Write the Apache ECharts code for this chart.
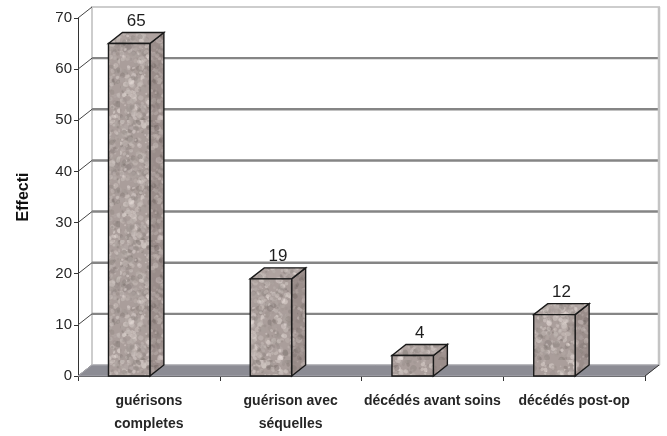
<!DOCTYPE html>
<html>
<head>
<meta charset="utf-8">
<script src="https://cdn.jsdelivr.net/npm/echarts@6/dist/echarts.min.js"></script>
<style>
  html, body { margin: 0; padding: 0; background: #fff; }
  #chart { width: 667px; height: 436px; }
</style>
</head>
<body>
<div id="chart"></div>
<script>
// Outcome categories and their counts
const categories = ['guérisons\ncompletes', 'guérison avec\nséquelles', 'décédés avant soins', 'décédés post-op'];
const counts = [65, 19, 4, 12];
const yMin = 0;
const yMax = 70;
const yStep = 10;
const axisTitle = 'Effecti';

// Pixel offset of the back plane (pseudo-3D depth)
const DX = 14, DY = -11;
const FONT = '"Liberation Sans", Arial, sans-serif';

// Stone-like fill used on the columns (deterministic speckle)
function speckleTexture() {
  const size = 120;
  const cv = document.createElement('canvas');
  cv.width = cv.height = size;
  const ctx = cv.getContext('2d');
  ctx.fillStyle = '#aa9e9b';
  ctx.fillRect(0, 0, size, size);
  const hash = n => { const s = Math.sin(n * 127.1 + 311.7) * 43758.5453; return s - Math.floor(s); };
  ctx.filter = 'blur(0.7px)';
  for (let i = 0; i < 1400; i++) {
    const x = hash(i) * size, y = hash(i + 1000) * size;
    const r = 0.8 + hash(i + 2000) * 2.4;
    const l = Math.round(115 + hash(i + 3000) * 115);
    ctx.fillStyle = 'rgba(' + (l + 8) + ',' + (l - 2) + ',' + (l - 6) + ',0.45)';
    ctx.beginPath();
    ctx.ellipse(x, y, r, r * (0.6 + hash(i + 4000) * 0.6), hash(i + 5000) * 3, 0, Math.PI * 2);
    ctx.fill();
  }
  ctx.filter = 'none';
  return cv;
}
const stone = { image: speckleTexture(), repeat: 'repeat' };

const yTickValues = [];
for (let v = yMin; v <= yMax; v += yStep) yTickValues.push(v);

// Back wall, floor and gridlines drawn on the offset back plane
function renderBackdrop(params, api) {
  const cs = params.coordSys;
  const x0 = cs.x, x1 = cs.x + cs.width;
  const yTop = api.coord([0, yMax])[1];
  const yBase = api.coord([0, yMin])[1];
  const children = [];
  children.push({
    type: 'polygon',
    shape: { points: [[x0 + DX, yTop + DY], [x1 + DX, yTop + DY], [x1 + DX, yBase + DY], [x0 + DX, yBase + DY]] },
    style: { fill: '#ffffff', stroke: '#cdcdcd', lineWidth: 2 }
  });
  yTickValues.forEach(v => {
    const y = api.coord([0, v])[1];
    if (v > yMin && v < yMax) {
      children.push({
        type: 'line',
        shape: { x1: x0 + DX, y1: y + DY, x2: x1 + DX, y2: y + DY },
        style: { stroke: '#858585', lineWidth: 2.4 }
      });
    }
    children.push({
      type: 'line',
      shape: { x1: x0, y1: y, x2: x0 + DX, y2: y + DY },
      style: { stroke: '#444', lineWidth: 1 }
    });
  });
  children.push({
    type: 'line',
    shape: { x1: x1 + DX, y1: yTop + DY, x2: x1 + DX, y2: yBase + DY },
    style: { stroke: '#c4c4c4', lineWidth: 2.5 }
  });
  children.push({
    type: 'polygon',
    shape: { points: [[x0, yBase], [x0 + DX, yBase + DY], [x1 + DX, yBase + DY], [x1, yBase]] },
    style: { fill: '#8c8c94', stroke: '#a9a9b0', lineWidth: 1 }
  });
  children.push({
    type: 'line',
    shape: { x1: x1, y1: yBase, x2: x1 + DX, y2: yBase + DY },
    style: { stroke: '#333', lineWidth: 1 }
  });
  return { type: 'group', children: children };
}

// One pseudo-3D column per category
function renderColumn(params, api) {
  const idx = api.value(0);
  const top = api.coord([idx, api.value(1)]);
  const base = api.coord([idx, yMin]);
  const band = api.size([1, 0])[0];
  const right = top[0] + 1;
  const left = top[0] - band * 0.285;
  const yT = top[1], yB = base[1];
  const edge = '#1a1a1a';
  const front = [[left, yT], [right, yT], [right, yB], [left, yB]];
  const side = [[right, yT], [right + DX, yT + DY], [right + DX, yB + DY], [right, yB]];
  const lid = [[left, yT], [left + DX, yT + DY], [right + DX, yT + DY], [right, yT]];
  return {
    type: 'group',
    children: [
      { type: 'polygon', shape: { points: side }, style: { fill: stone } },
      { type: 'polygon', shape: { points: side }, style: { fill: 'rgba(70,50,50,0.15)', stroke: edge, lineWidth: 1.4 } },
      { type: 'polygon', shape: { points: lid }, style: { fill: stone } },
      { type: 'polygon', shape: { points: lid }, style: { fill: 'rgba(255,255,255,0.06)', stroke: edge, lineWidth: 1.4 } },
      { type: 'polygon', shape: { points: front }, style: { fill: stone, stroke: edge, lineWidth: 1.4 } },
      {
        type: 'text',
        style: {
          x: (left + right) / 2 + DX / 2, y: yT + DY - 3,
          text: String(api.value(1)),
          fill: '#1e1e1e', font: '17px ' + FONT,
          align: 'center', verticalAlign: 'bottom'
        }
      }
    ]
  };
}

const chart = echarts.init(document.getElementById('chart'), null, { renderer: 'canvas' });
chart.setOption({
  animation: false,
  backgroundColor: '#ffffff',
  grid: { left: 78, right: 22, top: 18, bottom: 56, containLabel: false },
  xAxis: {
    type: 'category',
    data: categories,
    boundaryGap: true,
    axisLine: { lineStyle: { color: '#333', width: 1 } },
    axisTick: { show: true, length: 5, lineStyle: { color: '#333' } },
    axisLabel: {
      interval: 0, color: '#262626', fontSize: 14, fontWeight: 'bold', margin: 14, lineHeight: 23,
      fontFamily: FONT
    },
    splitLine: { show: false }
  },
  yAxis: {
    type: 'value',
    min: yMin, max: yMax, interval: yStep,
    name: axisTitle,
    nameLocation: 'middle',
    nameRotate: 90,
    nameGap: 46,
    nameTextStyle: { fontWeight: 'bold', fontSize: 16, color: '#111', fontFamily: FONT },
    axisLine: { show: true, lineStyle: { color: '#333', width: 1 } },
    axisTick: { show: true, length: 4, lineStyle: { color: '#333' } },
    axisLabel: { color: '#262626', fontSize: 15, margin: 6, fontFamily: FONT },
    splitLine: { show: false }
  },
  series: [
    {
      type: 'custom',
      z: 1,
      silent: true,
      renderItem: renderBackdrop,
      data: [[0, 0]]
    },
    {
      type: 'custom',
      z: 3,
      renderItem: renderColumn,
      data: counts.map((v, i) => [i, v])
    }
  ]
});
</script>
</body>
</html>
